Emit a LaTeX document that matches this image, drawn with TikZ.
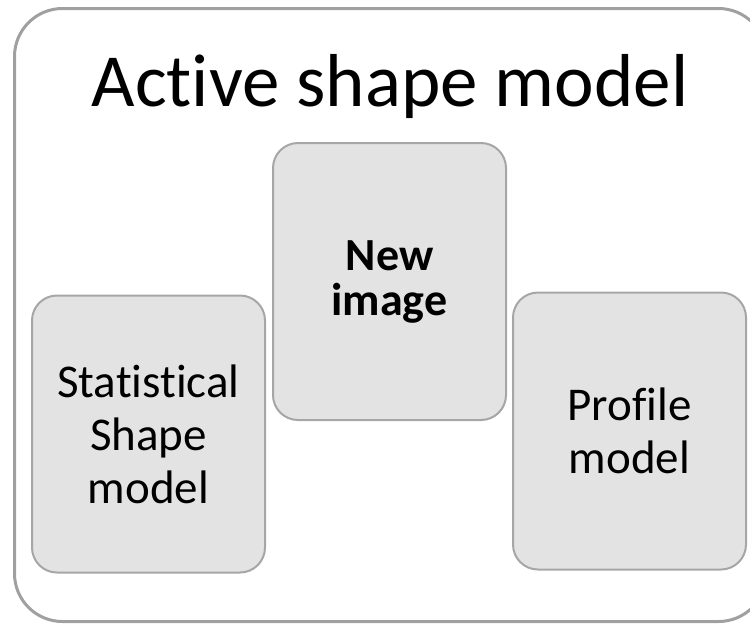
\documentclass[tikz,border=0pt]{standalone}
\usepackage{fontspec}
\setmainfont[Ligatures={NoCommon,NoContextual,NoRequired},Contextuals=NoAlternate]{Carlito}
% a zero kern splits the text run and keeps t+i and f+i as separate glyphs
\newcommand\nolig{\kern0pt{}}
\definecolor{framegray}{HTML}{A0A0A0}
\definecolor{boxline}{HTML}{A6A6A6}
\definecolor{boxfill}{HTML}{E3E3E3}
\tikzset{
  frame/.style={draw=framegray, line width=3pt, rounded corners=48pt},
  card/.style={draw=boxline, line width=2pt, fill=boxfill, rounded corners=25pt,
    minimum width=233pt, minimum height=277pt, inner sep=0pt, align=center,
    font=\fontsize{47}{53}\selectfont},
  title/.style={font=\fontsize{75}{80}\selectfont, anchor=base, inner sep=0pt}
}
\begin{document}
\begin{tikzpicture}[x=1pt, y=-1pt]
  \useasboundingbox (0,0) rectangle (750,625);
  \clip (0,0) rectangle (750,625);
  % outer container, its right side runs past the page edge
  \node[frame, minimum width=752pt, minimum height=613pt, anchor=north west] (frame) at (13,7) {};
  \node[title] (head) at (390,106) {Act\nolig ive shape model};
  % the three component cards
  \node[card] (ssm) at (148.5,434) {Stat\nolig ist\nolig ical\\Shape\\model};
  \node[card, font=\fontsize{46}{45}\selectfont\bfseries] (img) at (389.5,281.5) {New\\image};
  \node[card] (prof) at (629.5,431) {Prof\nolig ile\\model};
\end{tikzpicture}
\end{document}
